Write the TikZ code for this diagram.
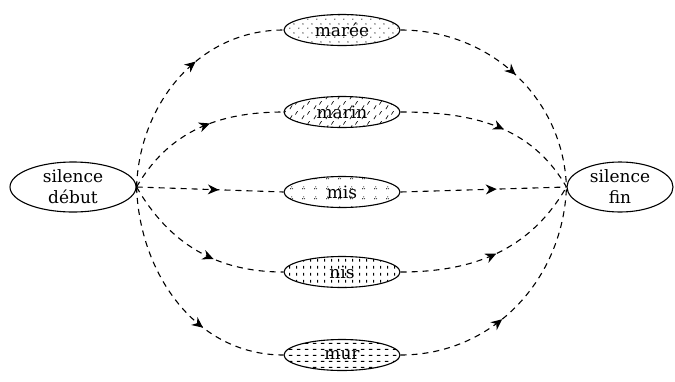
\documentclass[tikz,border=0pt]{standalone}
\usepackage{fontspec}
\setmainfont{DejaVu Serif}
\usetikzlibrary{shapes.geometric,patterns,decorations.markings,arrows.meta}

\pgfdeclarepatternformonly{pmaree}{\pgfpointorigin}{\pgfpoint{9pt}{9pt}}{\pgfpoint{9pt}{9pt}}{%
  \pgfpathcircle{\pgfpoint{2pt}{2pt}}{0.7pt}%
  \pgfpathcircle{\pgfpoint{6.5pt}{6.5pt}}{0.7pt}%
  \pgfusepath{fill}}
\pgfdeclarepatternformonly{pmarin}{\pgfpointorigin}{\pgfpoint{12pt}{10pt}}{\pgfpoint{12pt}{10pt}}{%
  \pgfsetlinewidth{0.7pt}%
  \pgfpathmoveto{\pgfpoint{2pt}{2pt}}\pgfpathlineto{\pgfpoint{4.5pt}{6pt}}%
  \pgfpathmoveto{\pgfpoint{8pt}{7pt}}\pgfpathlineto{\pgfpoint{10.5pt}{11pt}}%
  \pgfusepath{stroke}}
\pgfdeclarepatternformonly{pmis}{\pgfpointorigin}{\pgfpoint{12pt}{10pt}}{\pgfpoint{12pt}{10pt}}{%
  \pgfpathcircle{\pgfpoint{3pt}{3.5pt}}{0.6pt}%
  \pgfpathcircle{\pgfpoint{5pt}{3.5pt}}{0.6pt}%
  \pgfpathcircle{\pgfpoint{4pt}{5.5pt}}{0.6pt}%
  \pgfusepath{fill}}
\pgfdeclarepatternformonly{pnis}{\pgfpointorigin}{\pgfpoint{7pt}{7pt}}{\pgfpoint{7pt}{7pt}}{%
  \pgfsetlinewidth{1pt}%
  \pgfpathmoveto{\pgfpoint{3pt}{1.5pt}}\pgfpathlineto{\pgfpoint{3pt}{4.5pt}}%
  \pgfusepath{stroke}}
\pgfdeclarepatternformonly{pmur}{\pgfpointorigin}{\pgfpoint{8pt}{6pt}}{\pgfpoint{8pt}{6pt}}{%
  \pgfsetlinewidth{1pt}%
  \pgfpathmoveto{\pgfpoint{1pt}{3pt}}\pgfpathlineto{\pgfpoint{5pt}{3pt}}%
  \pgfusepath{stroke}}

\tikzset{
  word/.style={ellipse, draw, line width=1.1pt, inner sep=0pt,
    minimum width=116pt, minimum height=31pt, font=\fontsize{17}{18}\selectfont},
  sil/.style={ellipse, draw, line width=1.1pt, inner sep=0pt, align=center,
    font=\fontsize{17}{21}\selectfont},
  wordlabel/.style={font=\fontsize{17}{18}\selectfont, inner sep=0pt},
  flow/.style={line width=1.1pt, dash pattern=on 6pt off 5pt,
    postaction={decorate},
    decoration={markings, mark=at position #1 with {\arrow{Stealth[length=11pt,width=10pt]}}}},
  flow/.default=0.55
}

\begin{document}
\begin{tikzpicture}[x=1pt,y=-1pt]
\useasboundingbox (0,0) rectangle (675,381);

\node[sil, minimum width=126pt, minimum height=50pt] (deb) at (73,187) {silence\\début};
\node[sil, minimum width=106pt, minimum height=50pt] (fin) at (620,187) {silence\\fin};

\node[word, pattern=pmaree] (maree) at (342,30) {};
\node[word, pattern=pmarin] (marin) at (342,112) {};
\node[word, pattern=pmis] (mis) at (342,192) {};
\node[word, pattern=pnis] (nis) at (342,272) {};
\node[word, pattern=pmur] (mur) at (342,355) {};

\node[wordlabel] (tmaree) at (maree) {marée};
\node[wordlabel] (tmarin) at (marin) {marin};
\node[wordlabel] (tmis) at (mis) {mis};
\node[wordlabel] (tnis) at (nis) {nis};
\node[wordlabel] (tmur) at (mur) {mur};

\draw[flow=0.6] (deb.east) to[out=88,in=180] (maree.west);
\draw[flow=0.57] (deb.east) to[out=60,in=180] (marin.west);
\draw[flow=0.56] (deb.east) -- (mis.west);
\draw[flow=0.6] (deb.east) to[out=-60,in=180] (nis.west);
\draw[flow=0.65] (deb.east) to[out=-88,in=180] (mur.west);

\draw[flow=0.5] (maree.east) to[out=0,in=92] (fin.west);
\draw[flow=0.55] (marin.east) to[out=0,in=120] (fin.west);
\draw[flow=0.58] (mis.east) -- (fin.west);
\draw[flow=0.5] (nis.east) to[out=0,in=-120] (fin.west);
\draw[flow=0.42] (mur.east) to[out=0,in=-92] (fin.west);
\end{tikzpicture}
\end{document}
